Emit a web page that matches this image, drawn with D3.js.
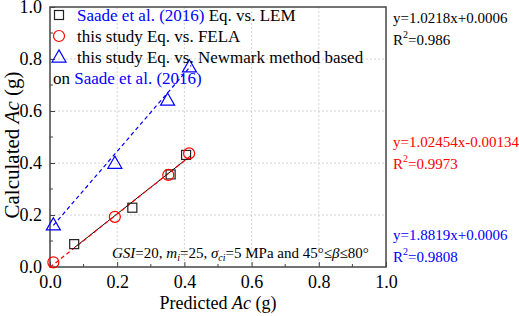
<!DOCTYPE html>
<html><head><meta charset="utf-8">
<script src="https://cdn.jsdelivr.net/npm/d3@7"></script>
<style>body{margin:0;background:#fff}svg text{font-family:"Liberation Serif","Times New Roman",serif !important}</style>
</head><body><svg id="c" width="519" height="316"></svg>
<script>
// Data
const squaresLEM = [[0.072,0.088],[0.245,0.228],[0.359,0.356],[0.405,0.431]];
const circlesFELA = [[0.010,0.018],[0.193,0.193],[0.352,0.354],[0.414,0.437]];
const trianglesNewmark = [[0.010,0.162],[0.193,0.399],[0.350,0.642],[0.415,0.770]];
const fitLEM = [[0.072,0.074],[0.405,0.414]];
const fitFELA = [[0.0,-0.001],[0.42,0.429]];
const fitNewmark = [[0.010,0.160],[0.42,0.775]];
const ticks = [0,0.2,0.4,0.6,0.8,1.0];
const minorTicks = [0.1,0.3,0.5,0.7,0.9];
const eqs = [
  {eq:"y=1.0218x+0.0006", r2:"0.986", color:"#000"},
  {eq:"y=1.02454x-0.00134", r2:"0.9973", color:"#ff0000"},
  {eq:"y=1.8819x+0.0006", r2:"0.9808", color:"#0000ff"}
];

const FF="Liberation Serif, Times New Roman, serif";
const svg = d3.select("#c").attr("font-family",FF);
const L=50,R=386,T=7,B=267;
const x=d3.scaleLinear().domain([0,1]).range([L,R]);
const y=d3.scaleLinear().domain([0,1]).range([B,T]);

// grid
const g=svg.append("g");
ticks.slice(1,-1).forEach(t=>{
  g.append("line").attr("x1",x(t)).attr("x2",x(t)).attr("y1",T).attr("y2",B)
   .attr("stroke","#c8c8c8").attr("stroke-dasharray","2,2").attr("stroke-width",0.8);
  g.append("line").attr("y1",y(t)).attr("y2",y(t)).attr("x1",L).attr("x2",R)
   .attr("stroke","#c8c8c8").attr("stroke-dasharray","2,2").attr("stroke-width",0.8);
});

// axes
const axB=d3.axisBottom(x).tickValues(ticks).tickFormat(d3.format(".1f")).tickSize(-5).tickPadding(8);
const axL=d3.axisLeft(y).tickValues(ticks).tickFormat(d3.format(".1f")).tickSize(-5).tickPadding(8);
const gb=svg.append("g").attr("transform",`translate(0,${B})`).call(axB);
const gl=svg.append("g").attr("transform",`translate(${L},0)`).call(axL);
[gb,gl].forEach(a=>{
  a.attr("font-family",FF);
  a.select(".domain").remove();
  a.selectAll("line").attr("stroke","#444").attr("stroke-width",1);
  a.selectAll("text").attr("font-size",18).attr("fill","#000");
});
// minor ticks
svg.append("g").selectAll("line").data(minorTicks).join("line")
  .attr("x1",d=>x(d)).attr("x2",d=>x(d)).attr("y1",B).attr("y2",B-3).attr("stroke","#444");
svg.append("g").selectAll("line").data(minorTicks).join("line")
  .attr("y1",d=>y(d)).attr("y2",d=>y(d)).attr("x1",L).attr("x2",L+3).attr("stroke","#444");
// frame
svg.append("rect").attr("x",L).attr("y",T).attr("width",R-L).attr("height",B-T)
  .attr("fill","none").attr("stroke","#444").attr("stroke-width",1.5);

// fit lines
const line=d3.line().x(d=>x(d[0])).y(d=>y(d[1]));
svg.append("path").attr("d",line(fitLEM)).attr("stroke","#000").attr("stroke-width",1).attr("fill","none");
svg.append("path").attr("d",line(fitFELA)).attr("stroke","#ff0000").attr("stroke-width",1.2).attr("stroke-dasharray","4,3").attr("fill","none");
svg.append("path").attr("d",line(fitNewmark)).attr("stroke","#0000ff").attr("stroke-width",1.2).attr("stroke-dasharray","4,3").attr("fill","none");

// markers
svg.append("g").selectAll("rect").data(squaresLEM).join("rect")
  .attr("x",d=>x(d[0])-4.5).attr("y",d=>y(d[1])-4.5).attr("width",9).attr("height",9)
  .attr("fill","none").attr("stroke","#222").attr("stroke-width",1.2);
svg.append("g").selectAll("circle").data(circlesFELA).join("circle")
  .attr("cx",d=>x(d[0])).attr("cy",d=>y(d[1])).attr("r",5.5)
  .attr("fill","none").attr("stroke","#ff0000").attr("stroke-width",1.2);
const tri=d3.symbol().type(d3.symbolTriangle).size(85);
svg.append("g").selectAll("path").data(trianglesNewmark).join("path")
  .attr("transform",d=>`translate(${x(d[0])},${y(d[1])+1})`).attr("d",tri)
  .attr("fill","none").attr("stroke","#0000ff").attr("stroke-width",1.2);

// legend
const lg=svg.append("g").attr("font-size",17);
lg.append("rect").attr("x",54.5).attr("y",10.5).attr("width",9).attr("height",9).attr("fill","none").attr("stroke","#222").attr("stroke-width",1.2);
let t1=lg.append("text").attr("x",77).attr("y",21);
t1.append("tspan").attr("fill","#0000ff").text("Saade et al. (2016)");
t1.append("tspan").attr("fill","#000").text(" Eq. vs. LEM");
lg.append("circle").attr("cx",59).attr("cy",36).attr("r",5.5).attr("fill","none").attr("stroke","#ff0000").attr("stroke-width",1.2);
lg.append("text").attr("x",77).attr("y",42).text("this study Eq. vs. FELA");
lg.append("path").attr("transform","translate(59,58)").attr("d",tri).attr("fill","none").attr("stroke","#0000ff").attr("stroke-width",1.2);
lg.append("text").attr("x",77).attr("y",63).text("this study Eq. vs. Newmark method based");
let t4=lg.append("text").attr("x",53).attr("y",84);
t4.append("tspan").text("on ");
t4.append("tspan").attr("fill","#0000ff").text("Saade et al. (2016)");

// condition annotation
const an=svg.append("text").attr("x",112).attr("y",258).attr("font-size",15);
an.append("tspan").attr("font-style","italic").text("GSI");
an.append("tspan").text("=20, ");
an.append("tspan").attr("font-style","italic").text("m");
an.append("tspan").attr("font-size",10).attr("dy",3).attr("font-style","italic").text("i");
an.append("tspan").attr("dy",-3).text("=25, ");
an.append("tspan").attr("font-style","italic").text("σ");
an.append("tspan").attr("font-size",10).attr("dy",3).attr("font-style","italic").text("ci");
an.append("tspan").attr("dy",-3).text("=5 MPa and 45°≤");
an.append("tspan").attr("font-style","italic").text("β");
an.append("tspan").text("≤80°");

// equations on right
const eqY=[23,147,240];
eqs.forEach((e,i)=>{
  svg.append("text").attr("x",393).attr("y",eqY[i]).attr("font-size",15).attr("fill",e.color).text(e.eq);
  const r=svg.append("text").attr("x",393).attr("y",eqY[i]+22).attr("font-size",15).attr("fill",e.color);
  r.append("tspan").text("R");
  r.append("tspan").attr("font-size",10).attr("dy",-7).text("2");
  r.append("tspan").attr("dy",7).text("="+e.r2);
});

// axis titles
const xt=svg.append("text").attr("x",(L+R)/2).attr("y",309).attr("text-anchor","middle").attr("font-size",18);
xt.append("tspan").text("Predicted ");
xt.append("tspan").attr("font-style","italic").text("Ac");
xt.append("tspan").text(" (g)");
const yt=svg.append("text").attr("transform",`translate(19,145) rotate(-90)`).attr("text-anchor","middle").attr("font-size",21);
yt.append("tspan").text("Calculated ");
yt.append("tspan").attr("font-style","italic").text("Ac");
yt.append("tspan").text(" (g)");
</script></body></html>
